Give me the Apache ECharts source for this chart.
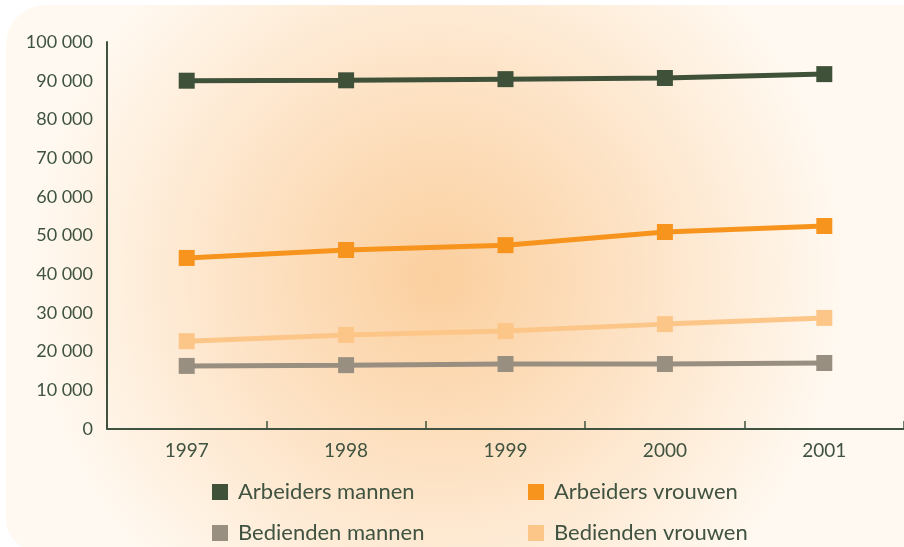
<!DOCTYPE html>
<html>
<head>
<meta charset="utf-8">
<script src="https://cdn.jsdelivr.net/npm/echarts@6/dist/echarts.min.js"></script>
<style>
  html, body { margin: 0; padding: 0; background: #fff; }
  #chart { width: 904px; height: 547px; }
</style>
</head>
<body>
<div id="chart"></div>
<script>
// jaren
var years = ['1997', '1998', '1999', '2000', '2001'];
// reeksen
var arbeidersMannen = [90000, 90100, 90400, 90700, 91700];
var arbeidersVrouwen = [44200, 46250, 47500, 50900, 52450];
var bediendenMannen = [16300, 16500, 16800, 16800, 17050];
var bediendenVrouwen = [22700, 24300, 25300, 27100, 28700];

var textColor = '#3f5340';
var font = 'Lato';

function serie(name, data, color) {
    return {
        name: name,
        type: 'line',
        data: data,
        symbol: 'rect',
        symbolSize: 16,
        lineStyle: { width: 5, color: color },
        itemStyle: { color: color },
        emphasis: { disabled: true }
    };
}

function legend(name, left, top) {
    return {
        data: [name],
        left: left,
        top: top,
        padding: 0,
        icon: 'rect',
        itemWidth: 16,
        itemHeight: 16,
        itemGap: 10,
        textStyle: { color: textColor, fontSize: 22, fontFamily: font, padding: [0, 0, 0, 5] }
    };
}

var chart = echarts.init(document.getElementById('chart'));
var option = {
    animation: false,
    graphic: [{
        type: 'rect',
        z: -10,
        shape: { x: 6, y: 5, width: 940, height: 545, r: [40, 0, 0, 30] },
        style: {
            fill: new echarts.graphic.RadialGradient(0.46, 0.5, 0.75, [
                { offset: 0, color: '#fbcf9e' },
                { offset: 0.45, color: '#fde1c2' },
                { offset: 1, color: '#fff9f1' }
            ])
        }
    }],
    grid: { left: 107, top: 42, width: 800, height: 387 },
    legend: [
        legend('Arbeiders mannen', 212, 481),
        legend('Arbeiders vrouwen', 528, 481),
        legend('Bedienden mannen', 212, 522),
        legend('Bedienden vrouwen', 528, 522)
    ],
    xAxis: {
        type: 'category',
        data: years,
        boundaryGap: true,
        axisLine: { lineStyle: { color: textColor, width: 2 } },
        axisTick: { show: true, inside: true, length: 8, lineStyle: { color: textColor, width: 1.5 } },
        axisLabel: { color: textColor, fontSize: 19, fontFamily: font, margin: 12 }
    },
    yAxis: {
        type: 'value',
        min: 0,
        max: 100000,
        interval: 10000,
        axisLine: { show: true, lineStyle: { color: textColor, width: 2 } },
        axisTick: { show: false },
        splitLine: { show: false },
        axisLabel: {
            color: textColor, fontSize: 18, fontFamily: font, margin: 14,
            formatter: function (v) {
                return String(v).replace(/\B(?=(\d{3})+(?!\d))/g, ' ');
            }
        }
    },
    series: [
        serie('Arbeiders mannen', arbeidersMannen, '#3f5139'),
        serie('Arbeiders vrouwen', arbeidersVrouwen, '#f7941d'),
        serie('Bedienden mannen', bediendenMannen, '#998f80'),
        serie('Bedienden vrouwen', bediendenVrouwen, '#fdc689')
    ]
};
chart.setOption(option);
</script>
</body>
</html>
